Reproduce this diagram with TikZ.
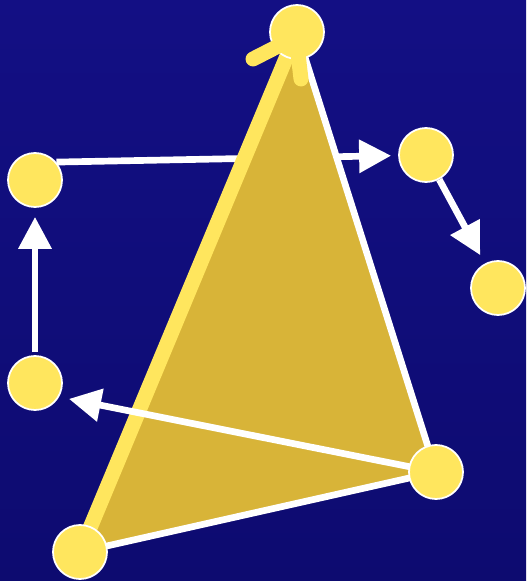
\documentclass[tikz,border=0pt]{standalone}
\usetikzlibrary{arrows.meta,positioning,calc,backgrounds}
\definecolor{bgtop}{RGB}{19,15,132}
\definecolor{bgmid}{RGB}{24,22,148}
\definecolor{bgbot}{RGB}{13,11,112}
\definecolor{ball}{RGB}{255,230,94}
\definecolor{gold}{RGB}{216,180,56}

\begin{document}
\begin{tikzpicture}[x=0.2mm, y=-0.2mm,
    dot/.style={circle, draw=white, line width=1pt, fill=ball, minimum size=10.8mm, inner sep=0pt},
    arr/.style={draw=white, line width=3.8pt, -{Triangle[length=6.4mm, width=6.4mm]}},
    rim/.style={draw=white, line width=3.8pt, line join=round},
    yel/.style={draw=ball, line width=8.5pt, line cap=round, line join=round}
]
\useasboundingbox (0,0) rectangle (526,581);
\node[dot] (top) at (297,32) {};
\node[dot] (ul) at (35,180) {};
\node[dot] (ml) at (35,383) {};
\node[dot] (bl) at (80,552) {};
\node[dot] (br) at (436,472) {};
\node[dot] (ur) at (426,155) {};
\node[dot] (rr) at (498,288) {};

\begin{scope}[on background layer]
\shade[top color=bgtop, middle color=bgmid, bottom color=bgbot] (0,0) rectangle (526,581);
\draw[arr, shorten >=1.4mm] (ul.40) -- (ur);
% triangle
\fill[gold] (top.center) -- (bl.center) -- (br.center) -- cycle;
\draw[yel, line cap=butt] (bl.center) -- (top.center);
\draw[rim] (top.center) -- (br.center) -- (bl.center);
\draw[arr, shorten >=2mm] (br.center) -- (ml.-30);
\draw[arr, shorten >=1.9mm] (ur) -- (rr);
\draw[arr, shorten <=0.6mm, shorten >=1.8mm] (ml) -- (ul);
\end{scope}

% barbs
\draw[yel] ($(top.center)+(-44,27)$) -- ($(top.center)+(-1,5)$) -- ($(top.center)+(4,47)$);
\end{tikzpicture}
\end{document}
